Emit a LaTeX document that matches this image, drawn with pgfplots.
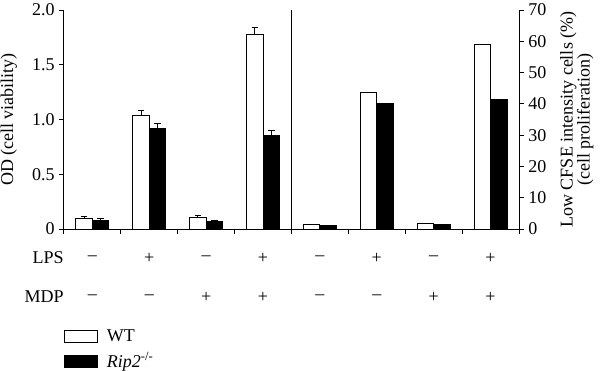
\documentclass[border=0pt]{standalone}
\usepackage{fontspec}
\setmainfont{Liberation Serif}
\usepackage{pgfplots}
\pgfplotsset{compat=1.18}
\newcommand{\fs}{\fontsize{13.5}{16}\selectfont}
\begin{document}
\begin{tikzpicture}[x=1pt,y=1pt]
\useasboundingbox (-48,-106.5) rectangle (402,171.75);
\pgfplotsset{
  base/.style={
    scale only axis, width=341.25pt, height=164.25pt,
    at={(0,0)}, anchor=south west,
    xmin=0, xmax=8, ymin=0,
    clip=false,
    axis line style={line width=0.75pt},
    tick style={line width=0.75pt, black},
    major tick length=3.5pt,
    tick align=outside,
    /pgf/number format/assume math mode=true,
    ticklabel style={font=\fs},
    label style={font=\fs},
    ybar, bar width=0.29,
  },
  wt/.style={fill=white, draw=black, line width=0.75pt, bar shift=-0.145},
  ko/.style={fill=black, draw=black, line width=0.75pt, bar shift=0.145},
  eb/.style={error bars/.cd, y dir=plus, y explicit,
    error bar style={line width=0.75pt, black},
    error mark options={rotate=90, mark size=2.4pt, line width=0.75pt, black}},
}
\begin{axis}[base, ymax=2,
  axis x line*=bottom, axis y line*=left,
  ytick={0,0.5,1,1.5,2}, yticklabels={0,0.5,1.0,1.5,2.0},
  xtick={0,...,8}, xticklabels={},
  ylabel={OD (cell viability)},
  ylabel style={at={(axis description cs:-0.121,0.5)}, anchor=center},
  legend style={at={(axis description cs:0,-0.445)}, anchor=north west,
    draw=none, fill=none, inner sep=0pt, row sep=3pt,
    font=\fs, nodes={inner sep=2pt, anchor=west}},
  legend cell align=left,
  legend image code/.code={\draw[#1, bar shift=0pt] (0pt,-4.5pt) rectangle (24.75pt,4.5pt);},
]
\addplot[wt, eb] coordinates {(0.5,0.100) +- (0,0.016) (1.5,1.034) +- (0,0.048) (2.5,0.106) +- (0,0.020) (3.5,1.773) +- (0,0.067)};
\addplot[ko, eb] coordinates {(0.5,0.079) +- (0,0.018) (1.5,0.915) +- (0,0.049) (2.5,0.070) +- (0,0.010) (3.5,0.851) +- (0,0.052)};
\legend{\hspace{4.5pt}WT, \hspace{4.5pt}\textit{Rip2}\textsuperscript{-/-}}
\draw[line width=0.75pt] (axis cs:4,0) -- (axis cs:4,2);
% treatment rows
\node[font=\fs, anchor=east, inner sep=0pt] at ([yshift=-21.75pt]axis cs:0,0) {LPS};
\node[font=\fs, anchor=east, inner sep=0pt] at ([yshift=-51pt]axis cs:0,0) {MDP};
\node[font=\fs] at ([yshift=-21.75pt]axis cs:0.5,0) {–};
\node[font=\fs] at ([yshift=-21.75pt]axis cs:1.5,0) {+};
\node[font=\fs] at ([yshift=-21.75pt]axis cs:2.5,0) {–};
\node[font=\fs] at ([yshift=-21.75pt]axis cs:3.5,0) {+};
\node[font=\fs] at ([yshift=-21.75pt]axis cs:4.5,0) {–};
\node[font=\fs] at ([yshift=-21.75pt]axis cs:5.5,0) {+};
\node[font=\fs] at ([yshift=-21.75pt]axis cs:6.5,0) {–};
\node[font=\fs] at ([yshift=-21.75pt]axis cs:7.5,0) {+};
\node[font=\fs] at ([yshift=-51pt]axis cs:0.5,0) {–};
\node[font=\fs] at ([yshift=-51pt]axis cs:1.5,0) {–};
\node[font=\fs] at ([yshift=-51pt]axis cs:2.5,0) {+};
\node[font=\fs] at ([yshift=-51pt]axis cs:3.5,0) {+};
\node[font=\fs] at ([yshift=-51pt]axis cs:4.5,0) {–};
\node[font=\fs] at ([yshift=-51pt]axis cs:5.5,0) {–};
\node[font=\fs] at ([yshift=-51pt]axis cs:6.5,0) {+};
\node[font=\fs] at ([yshift=-51pt]axis cs:7.5,0) {+};
\end{axis}
\begin{axis}[base, ymax=70,
  axis x line=none, axis y line*=right,
  ytick={0,10,...,70},
  ylabel={Low CFSE intensity cells (\%)\\(cell proliferation)},
  ylabel style={align=center, font=\fontsize{13.5}{12.75}\selectfont,
    at={(axis description cs:1.127,0.5)}, anchor=center},
]
\addplot[wt] coordinates {(4.5,1.3) (5.5,43.7) (6.5,1.6) (7.5,59.0)};
\addplot[ko] coordinates {(4.5,1.2) (5.5,40.1) (6.5,1.3) (7.5,41.3)};
\end{axis}
\end{tikzpicture}
\end{document}
